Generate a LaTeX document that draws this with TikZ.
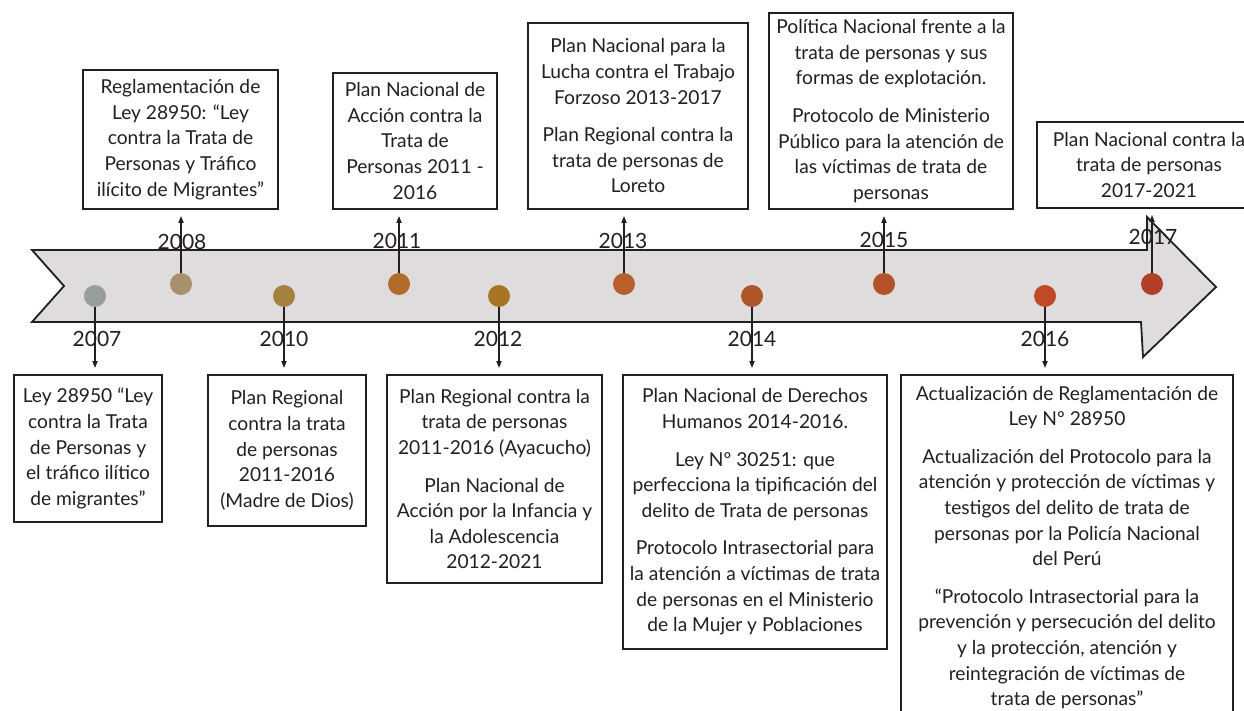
\documentclass[tikz,border=0pt]{standalone}
\usepackage{fontspec}
\setmainfont{Lato}
\usetikzlibrary{arrows.meta}
\definecolor{ink}{HTML}{231F20}
\definecolor{band}{HTML}{DEDCDD}
\definecolor{c07}{HTML}{9A9D9D}
\definecolor{c08}{HTML}{A88F6E}
\definecolor{c10}{HTML}{A6813D}
\definecolor{c11}{HTML}{B06C28}
\definecolor{c12}{HTML}{A87524}
\definecolor{c13}{HTML}{B8602A}
\definecolor{c14}{HTML}{AD5728}
\definecolor{c15}{HTML}{B4532A}
\definecolor{c16}{HTML}{C04A27}
\definecolor{c17}{HTML}{B33F27}
\tikzset{
  evbox/.style={draw=ink, line width=1.8pt, align=center, inner sep=0pt, text=ink,
    font=\fontsize{19.2}{25.6}\selectfont},
  yr/.style={text=ink, inner sep=0pt, font=\fontsize{21}{24}\selectfont},
  dot/.style={circle, minimum size=22pt, inner sep=0pt},
  conn/.style={draw=ink, line width=1.6pt, -{Triangle[length=7pt,width=5pt]}, shorten >=6pt},
}
\begin{document}
\begin{tikzpicture}[x=1pt,y=-1pt]
\clip (0,0) rectangle (1244,711);
\fill[white] (0,0) rectangle (1244,711);
% band arrow
\draw[fill=band, draw=ink, line width=1.8pt, line join=miter]
  (32,250) -- (1147,250) -- (1147,217) -- (1216,287) -- (1143,357) -- (1141,322) -- (32,322) -- (64,286) -- cycle;
% dots
\node[dot, fill=c07] (d07) at (95,296) {};
\node[dot, fill=c08] (d08) at (181,284) {};
\node[dot, fill=c10] (d10) at (284,296) {};
\node[dot, fill=c11] (d11) at (399,284) {};
\node[dot, fill=c12] (d12) at (499,296) {};
\node[dot, fill=c13] (d13) at (624,284) {};
\node[dot, fill=c14] (d14) at (752,296) {};
\node[dot, fill=c15] (d15) at (884,284) {};
\node[dot, fill=c16] (d16) at (1045,296) {};
\node[dot, fill=c17] (d17) at (1152,284) {};
% years
\node[yr] (y07) at (97,339) {2007};
\node[yr] (y08) at (182,242) {2008};
\node[yr] (y10) at (284,339) {2010};
\node[yr] (y11) at (397,241) {2011};
\node[yr] (y12) at (498,339) {2012};
\node[yr] (y13) at (623,241) {2013};
\node[yr] (y14) at (752,339) {2014};
\node[yr] (y15) at (884,240) {2015};
\node[yr] (y16) at (1045,339) {2016};
\node[yr] (y17) at (1153,237) {2017};
% top boxes
\node[evbox, minimum width=195pt, minimum height=139pt] (b08) at (180.5,139.5)
 {Reglamentación de\\Ley 28950: “Ley\\contra la Trata de\\Personas y Tráfico\\ilícito de Migrantes”};
\node[evbox, minimum width=164pt, minimum height=136pt] (b11) at (415,141)
 {Plan Nacional de\\Acción contra la\\Trata de\\Personas 2011 -\\2016};
\node[evbox, minimum width=220pt, minimum height=186pt] (b13) at (638,116)
 {Plan Nacional para la\\Lucha contra el Trabajo\\Forzoso 2013-2017\\[12pt]Plan Regional contra la\\trata de personas de\\Loreto};
\node[evbox, minimum width=244pt, minimum height=196pt] (b15) at (891,111)
 {Política Nacional frente a la\\trata de personas y sus\\formas de explotación.\\[12pt]Protocolo de Ministerio\\Público para la atención de\\las víctimas de trata de\\personas};
\node[evbox, minimum width=224pt, minimum height=86pt] (b17) at (1149,165)
 {Plan Nacional contra la\\trata de personas\\2017-2021};
% bottom boxes
\node[evbox, minimum width=148pt, minimum height=147pt] (b07) at (88,448.5)
 {Ley 28950 “Ley\\contra la Trata\\de Personas y\\el tráfico ilítico\\de migrantes”};
\node[evbox, minimum width=158pt, minimum height=151pt] (b10) at (287,450.5)
 {Plan Regional\\contra la trata\\de personas\\2011-2016\\(Madre de Dios)};
\node[evbox, minimum width=215pt, minimum height=208pt] (b12) at (494.5,479)
 {Plan Regional contra la\\trata de personas\\2011-2016 (Ayacucho)\\[12pt]Plan Nacional de\\Acción por la Infancia y\\la Adolescencia\\2012-2021};
\node[evbox, minimum width=264pt, minimum height=274pt] (b14) at (755,512)
 {Plan Nacional de Derechos\\Humanos 2014-2016.\\[12pt]Ley Nº 30251: que\\perfecciona la tipificación del\\delito de Trata de personas\\[12pt]Protocolo Intrasectorial para\\la atención a víctimas de trata\\de personas en el Ministerio\\de la Mujer y Poblaciones};
\node[evbox, minimum width=332pt, minimum height=345pt] (b16) at (1067,547.5)
 {Actualización de Reglamentación de\\Ley Nº 28950\\[12pt]Actualización del Protocolo para la\\atención y protección de víctimas y\\testigos del delito de trata de\\personas por la Policía Nacional\\del Perú\\[12pt]“Protocolo Intrasectorial para la\\prevención y persecución del delito\\y la protección, atención y\\reintegración de víctimas de\\trata de personas”};
% connectors
\draw[conn] (d08.north) -- (d08 |- b08.south);
\draw[conn] (d11.north) -- (d11 |- b11.south);
\draw[conn] (d13.north) -- (d13 |- b13.south);
\draw[conn] (d15.north) -- (d15 |- b15.south);
\draw[conn] (d17.north) -- (d17 |- b17.south);
\draw[conn] (d07.south) -- (d07 |- b07.north);
\draw[conn] (d10.south) -- (d10 |- b10.north);
\draw[conn] (d12.south) -- (d12 |- b12.north);
\draw[conn] (d14.south) -- (d14 |- b14.north);
\draw[conn] (d16.south) -- (d16 |- b16.north);
\end{tikzpicture}
\end{document}
